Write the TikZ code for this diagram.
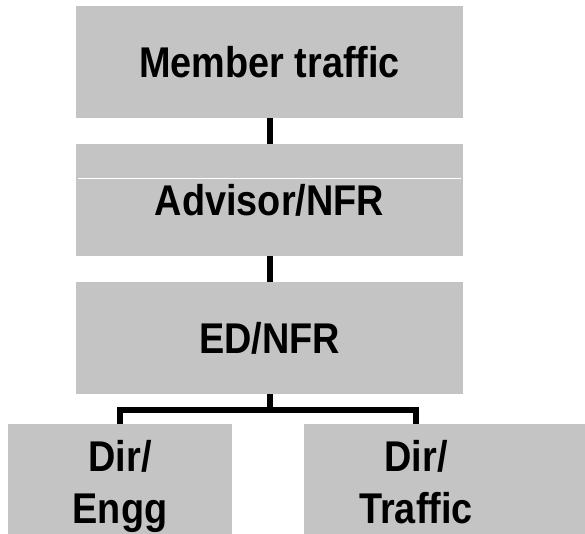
\documentclass[tikz,border=0pt]{standalone}
\usepackage{fontspec}
\newfontfamily\boxfont{Liberation Sans}[FakeStretch=0.88]
\definecolor{boxgray}{HTML}{C4C4C4}
\tikzset{
  box/.style={fill=boxgray, minimum width=387pt, minimum height=112pt, inner sep=0pt,
    align=center, font=\boxfont\bfseries\fontsize{43}{52}\selectfont},
  conn/.style={line width=6pt}
}
\begin{document}
\begin{tikzpicture}[x=1pt, y=-1pt]
    \useasboundingbox (0,0) rectangle (585,534);
    \node[box] (member)  at (269.5,62)  {Member traffic};
    \node[box] (advisor) at (269.5,200) {Advisor/NFR};
    \node[box] (ed)      at (269.5,338) {ED/NFR};
    \node[box, minimum width=224pt, minimum height=124pt] (engg)    at (120,486) {Dir/\\Engg};
    \node[box, minimum width=224pt, minimum height=124pt] (traffic) at (416,486) {Dir/\\Traffic\vphantom{g}};
    \fill[boxgray] (traffic.north east) rectangle (586,548);
    % thin white line across the advisor box
    \draw[white, line width=1pt] ([shift={(2,-21)}]advisor.west) -- ([shift={(-2,-21)}]advisor.east);
    \draw[conn] (member) -- (advisor);
    \draw[conn] (advisor) -- (ed);
    \draw[conn] (ed.south) -- ++(0,16) -| (engg.north);
    \draw[conn] (ed.south) -- ++(0,16) -| (traffic.north);
  \end{tikzpicture}
\end{document}
